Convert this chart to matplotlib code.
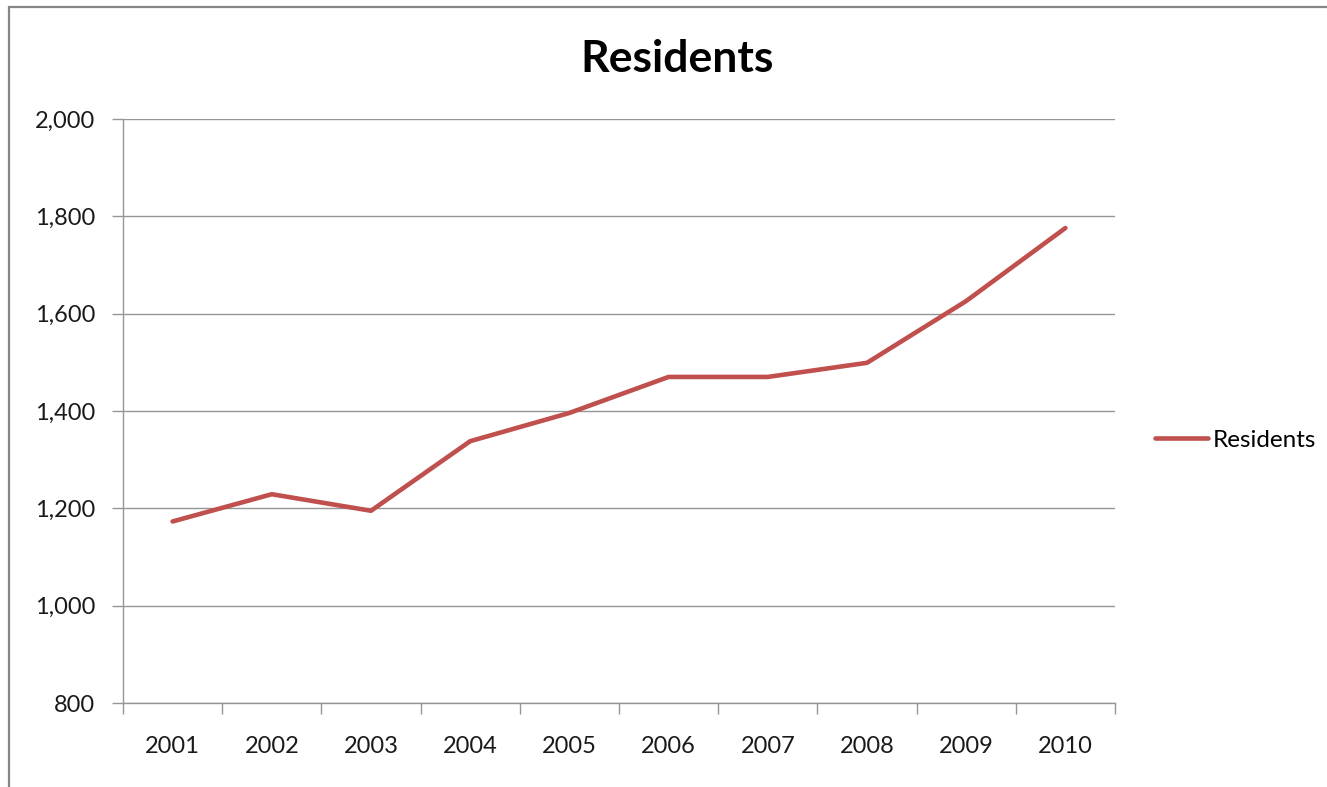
"""
Residents per year, line chart
"""

import matplotlib.pyplot as plt
from matplotlib.patches import Rectangle
from matplotlib.ticker import FuncFormatter, FixedLocator, NullFormatter

#---------------------------------------------------------------------------------------------------
# Data
#---------------------------------------------------------------------------------------------------

years = ['2001', '2002', '2003', '2004', '2005', '2006', '2007', '2008', '2009', '2010']
residents = [1173, 1229, 1195, 1338, 1396, 1470, 1470, 1499, 1626, 1776]

y_ticks = [800, 1000, 1200, 1400, 1600, 1800, 2000]

#---------------------------------------------------------------------------------------------------
# Plot
#---------------------------------------------------------------------------------------------------

plt.rcParams['font.family'] = ['Lato', 'DejaVu Sans']

W, H = 1327, 787
fig = plt.figure(figsize=(W/100, H/100), dpi=100)
ax = fig.add_axes([123/W, 1 - 703/H, (1115 - 123)/W, (703 - 119)/H])

# outer chart border (runs off the right and bottom of the picture)
fig.patches.append(Rectangle((9/W, -0.05), 1.2, 1 - 7/H + 0.05, transform=fig.transFigure,
                             fill=False, edgecolor='#868686', lw=1.6))

x = list(range(len(years)))
ax.plot(x, residents, color='#C0504D', lw=3.3, solid_capstyle='round', solid_joinstyle='round',
        label='Residents')

ax.set_xlim(-0.5, len(years) - 0.5)
ax.set_ylim(800, 2000)
ax.set_yticks(y_ticks)
ax.yaxis.set_major_formatter(FuncFormatter(lambda v, p: '{:,.0f}'.format(v)))
ax.grid(axis='y', color='#969696', lw=1.0)
ax.set_axisbelow(True)

# category labels in the centre, tick marks on the boundaries
ax.set_xticks(x)
ax.set_xticklabels(years)
ax.tick_params(axis='x', which='major', length=0, pad=24)
ax.xaxis.set_minor_locator(FixedLocator([i - 0.5 for i in range(len(years) + 1)]))
ax.xaxis.set_minor_formatter(NullFormatter())
ax.tick_params(axis='x', which='minor', length=8, color='#969696', width=1.0, direction='out')
ax.tick_params(axis='y', length=8, color='#969696', width=1.0, pad=12)
ax.tick_params(labelsize=17, labelcolor='#1a1a1a')

for s in ['top', 'right']:
    ax.spines[s].set_visible(False)
for s in ['left', 'bottom']:
    ax.spines[s].set_color('#969696')
    ax.spines[s].set_linewidth(1.0)

fig.text(677/W, 1 - 59/H, 'Residents', ha='center', va='center', fontsize=32, fontweight='bold')

ax.legend(loc='center left', bbox_to_anchor=(1.018, 0.45), frameon=False, fontsize=17.5,
          handlelength=2.2, handletextpad=0.2)

fig.savefig('out.png', dpi=100)
plt.close()
